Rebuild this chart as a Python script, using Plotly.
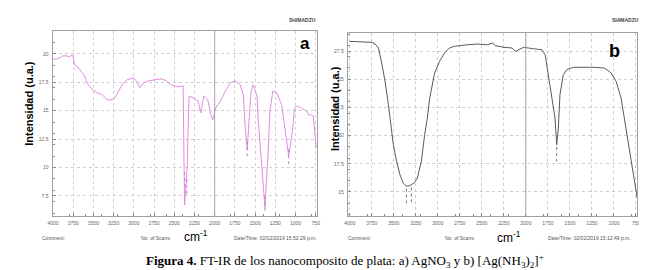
import plotly.graph_objects as go

# ---------------- data ----------------
wn_a = [4000, 3976, 3915, 3878, 3841, 3793, 3756, 3732, 3695, 3659, 3610, 3573, 3512, 3451, 3390,
        3329, 3268, 3232, 3183, 3146, 3085, 3049, 3000, 2963, 2927, 2878, 2817, 2744, 2659, 2598,
        2537, 2451, 2390, 2378, 2372, 2341, 2317, 2268, 2207, 2171, 2134, 2085, 2049, 2024, 1988,
        1927, 1866, 1805, 1744, 1683, 1646, 1622, 1598, 1573, 1549, 1524, 1476, 1463, 1415, 1378,
        1341, 1317, 1280, 1232, 1171, 1134, 1085, 1037, 1012, 976, 927, 866, 841, 805, 780, 744]
int_a = [19.65, 19.47, 19.65, 19.82, 19.82, 19.74, 19.91, 19.03, 18.86, 18.50, 18.06, 17.36, 16.83, 16.57, 16.39,
         15.95, 15.95, 16.13, 16.74, 17.27, 17.71, 17.80, 17.89, 17.54, 17.01, 17.45, 17.62, 17.71, 17.80, 17.62,
         17.27, 17.10, 17.18, 9.5, 6.71, 9.96, 16.30, 16.13, 15.86, 14.81, 16.30, 15.95, 14.63, 14.19, 15.25,
         15.86, 16.74, 17.45, 17.62, 17.27, 16.39, 13.49, 11.55, 14.37, 16.74, 17.27, 16.30, 14.37, 9.96, 6.44,
         11.11, 14.98, 16.74, 16.57, 15.51, 13.49, 11.02, 13.22, 15.25, 15.42, 15.25, 14.98, 14.63, 14.63, 14.54, 11.7]

wn_b = [4000, 3749, 3711, 3674, 3637, 3599, 3561, 3542, 3505, 3468, 3430, 3393, 3356, 3317, 3269,
        3232, 3187, 3149, 3119, 3092, 3036, 2980, 2924, 2868, 2811, 2662, 2549, 2437, 2381, 2343,
        2249, 2156, 2119, 2080, 2024, 1912, 1818, 1781, 1743, 1706, 1669, 1650, 1631, 1613, 1575,
        1537, 1462, 1237, 1106, 1031, 975, 919, 882, 863, 806, 750, 736]
int_b = [28.36, 28.27, 28.12, 27.77, 26.44, 24.81, 22.74, 21.56, 19.19, 17.72, 16.53, 15.80, 15.51, 15.56, 15.80,
         16.24, 17.72, 20.08, 21.56, 23.33, 25.55, 26.59, 27.32, 27.77, 27.92, 28.06, 28.12, 28.06, 28.21, 27.97,
         27.83, 27.77, 27.47, 27.62, 27.83, 27.70, 27.62, 27.17, 25.40, 23.33, 21.56, 19.19, 20.67, 23.63, 25.40,
         25.84, 26.06, 26.06, 25.99, 25.55, 24.81, 23.33, 21.56, 20.67, 18.01, 15.36, 14.47]

# peak markers (wavenumber, intensity at the marker top)
peak_wn_a = [2372, 2345, 1598, 1378, 1085]
peak_int_a = [9.6, 9.0, 12.3, 7.5, 11.6]
peak_wn_b = [3356, 3300, 1650]
peak_int_b = [15.3, 15.4, 19.0]

x_ticks = [4000, 3750, 3500, 3250, 3000, 2750, 2500, 2250, 2000, 1750, 1500, 1250, 1000, 750]
x_tick_text = ["4000", "3750", "3500", "3250", "3000", "2750", "2500", "2250", "2000",
               "1750", "1500", "1250", "1000", "750"]
y_ticks_a = [20, 17.5, 15, 12.5, 10, 7.5]
y_tick_text_a = ["20", "17.5", "15", "12.5", "10", "7.5"]
y_ticks_b = [27.5, 25, 22.5, 20, 17.5, 15]
y_tick_text_b = ["27.5", "25", "22.5", "20", "17.5", "15"]

# ---------------- figure ----------------
W, H = 647, 270
fig = go.Figure()
fig.add_trace(go.Scatter(x=wn_a, y=int_a, mode="lines", line=dict(color="#df8fdf", width=1),
                         xaxis="x", yaxis="y", showlegend=False))
fig.add_trace(go.Scatter(x=wn_b, y=int_b, mode="lines", line=dict(color="#5a5a5a", width=1),
                         xaxis="x2", yaxis="y2", showlegend=False))

# peak marker stubs
def stubs(wns, tops, length):
    xs, ys = [], []
    for w, t in zip(wns, tops):
        xs += [w, w, None]
        ys += [t, t - length, None]
    return xs, ys

sx, sy = stubs(peak_wn_a, peak_int_a, 1.3)
fig.add_trace(go.Scatter(x=sx, y=sy, mode="lines", line=dict(color="#d070d0", width=1, dash="dot"),
                         xaxis="x", yaxis="y", showlegend=False))
sx, sy = stubs(peak_wn_b, peak_int_b, 1.3)
fig.add_trace(go.Scatter(x=sx, y=sy, mode="lines", line=dict(color="#777", width=1, dash="dot"),
                         xaxis="x2", yaxis="y2", showlegend=False))

def px_x(p):
    return p / W

def px_y(p):
    return 1 - p / H

tickfont = dict(family="Arial", size=5, color="#666")
common_x = dict(tickvals=x_ticks, ticktext=x_tick_text, tickfont=tickfont, showgrid=True,
                gridcolor="#cfcfcf", griddash="dot", gridwidth=1, showline=True, mirror=True,
                linecolor="#a0a0a0", linewidth=1, ticks="inside", ticklen=3, tickcolor="#888",
                ticklabelstandoff=2,
                minor=dict(ticks="inside", ticklen=2, nticks=5, tickcolor="#888", showgrid=False),
                zeroline=False, fixedrange=True)
common_y = dict(tickfont=tickfont, showgrid=True, gridcolor="#cfcfcf", griddash="dot", gridwidth=1,
                showline=True, mirror=True, linecolor="#a0a0a0", linewidth=1, ticks="inside",
                ticklen=3, tickcolor="#888", ticklabelstandoff=2,
                minor=dict(ticks="inside", ticklen=2, nticks=6, tickcolor="#888", showgrid=False),
                zeroline=False, fixedrange=True)

fig.update_layout(
    width=W, height=H, margin=dict(l=0, r=0, t=0, b=0),
    paper_bgcolor="white", plot_bgcolor="white",
    xaxis=dict(domain=[px_x(40), px_x(308)], range=[4006, 732], anchor="y", **common_x),
    yaxis=dict(domain=[px_y(208), px_y(23)], range=[5.74, 22.0], anchor="x",
               tickvals=y_ticks_a, ticktext=y_tick_text_a, **common_y),
    xaxis2=dict(domain=[px_x(339), px_x(632)], range=[4022, 736], anchor="y2", **common_x),
    yaxis2=dict(domain=[px_y(208), px_y(25)], range=[12.87, 29.1], anchor="x2",
                tickvals=y_ticks_b, ticktext=y_tick_text_b, **common_y),
)

# solid vertical line at 2000 cm-1 in each panel
for xr, yr in (("x", "y domain"), ("x2", "y2 domain")):
    fig.add_shape(type="line", xref=xr, yref=yr, x0=2000, x1=2000, y0=0, y1=1,
                  line=dict(color="#a8a8a8", width=1))

ann = []
def text(x, y, t, size, color="black", family="Arial", bold=False, angle=0, xanchor="center"):
    ann.append(dict(x=px_x(x), y=px_y(y), xref="paper", yref="paper", text=(f"<b>{t}</b>" if bold else t),
                    showarrow=False, font=dict(size=size, color=color, family=family),
                    textangle=angle, xanchor=xanchor, yanchor="middle"))

# panel labels
text(296, 35, "a", 17, bold=True)
text(609, 43, "b", 18, bold=True)
# axis titles
text(16, 95, "Intensidad (u.a.)", 11, bold=True, angle=-90)
text(326, 100, "Intensidad (u.a.)", 11, bold=True, angle=-90)
text(185, 228, "cm<sup>-1</sup>", 12)
text(502, 229, "cm<sup>-1</sup>", 12)
# instrument header
text(293, 12, "SHIMADZU", 5, color="#444", bold=True)
text(620, 12, "SHIMADZU", 5, color="#444", bold=True)
# footer texts
text(27, 230, "Comment:", 5, color="#555", xanchor="left")
text(128, 230, "No. of Scans:", 5, color="#555", xanchor="left")
text(222, 230, "Date/Time: 02/02/2019 15:52:29 p.m.", 5, color="#555", xanchor="left")
text(337, 230, "Comment:", 5, color="#555", xanchor="left")
text(435, 230, "No. of Scans:", 5, color="#555", xanchor="left")
text(540, 230, "Date/Time: 02/02/2019 15:12:49 p.m.", 5, color="#555", xanchor="left")
# caption
text(336, 253, "<b>Figura 4.</b> FT-IR de los nanocomposito de plata: a) AgNO<sub>3</sub> y b) [Ag(NH<sub>3</sub>)<sub>2</sub>]<sup>+</sup>",
     13, family="Liberation Serif")

fig.update_layout(annotations=ann)
fig.write_html("out.html")
